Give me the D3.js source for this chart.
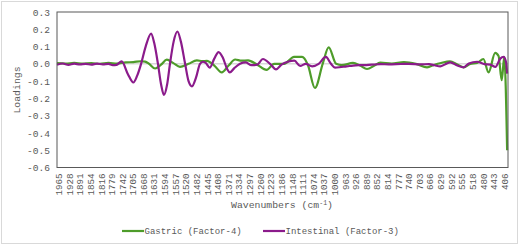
<!DOCTYPE html>
<html>
<head>
<meta charset="utf-8">
<script src="https://cdn.jsdelivr.net/npm/d3@7"></script>
<style>
  body { margin: 0; background: #fff; }
  text { font-family: "Liberation Mono", "DejaVu Sans Mono", monospace; fill: #595959; }
</style>
</head>
<body>
<svg id="chart" width="520" height="246"></svg>
<script>
// wavenumber tick labels (cm-1)
const xLabels = [1965, 1928, 1891, 1854, 1816, 1779, 1742, 1705, 1668, 1631, 1594, 1557, 1520,
  1482, 1445, 1408, 1371, 1334, 1297, 1260, 1223, 1186, 1148, 1111, 1074, 1037, 1000, 963,
  926, 889, 852, 814, 777, 740, 703, 666, 629, 592, 555, 518, 480, 443, 406];
const yTicks = [-0.6, -0.5, -0.4, -0.3, -0.2, -0.1, 0.0, 0.1, 0.2, 0.3];

// Gastric (Factor-4) loadings
const gastricWn = [1970, 1940, 1910, 1880, 1850, 1820, 1790, 1760, 1730, 1703, 1676, 1662, 1648,
  1627, 1606, 1586, 1563, 1540, 1510, 1481, 1462, 1446, 1420, 1394, 1370, 1347, 1325, 1302,
  1270, 1237, 1211, 1176, 1141, 1113, 1093, 1068, 1041, 1020, 994, 974, 935, 910, 886, 860,
  840, 800, 757, 715, 676, 650, 627, 596, 570, 548, 525, 501, 479, 461, 438, 426, 415, 406, 396];
const gastricVal = [0.004, 0.002, 0.005, 0.001, 0.004, 0.0, 0.005, 0.002, 0.008, 0.01, 0.015, 0.013, 0.0,
  -0.027, -0.005, 0.024, 0.004, -0.018, 0.0, 0.02, 0.016, 0.017, -0.01, -0.05, -0.01, 0.025, 0.018, 0.02,
  -0.005, -0.035, 0.0, 0.0, 0.04, 0.04, -0.005, -0.14, 0.0, 0.095, 0.0, -0.008, 0.005, -0.01, -0.03, -0.01,
  0.007, 0.002, 0.01, 0.0, -0.02, -0.005, 0.005, 0.014, -0.004, -0.02, 0.0, 0.005, 0.028, -0.05, 0.063, 0.045, -0.095, 0.04, -0.5];

// Intestinal (Factor-3) loadings
const intestinalWn = [1970, 1950, 1930, 1910, 1890, 1870, 1850, 1830, 1810, 1790, 1775, 1762, 1744,
  1722, 1703, 1690, 1676, 1660, 1641, 1630, 1617, 1606, 1596, 1585, 1575, 1562, 1549, 1537, 1522,
  1510, 1498, 1484, 1470, 1460, 1450, 1436, 1420, 1405, 1390, 1375, 1366, 1350, 1330, 1310, 1290,
  1270, 1250, 1225, 1204, 1185, 1163, 1140, 1120, 1100, 1078, 1055, 1030, 1012, 998, 975, 957,
  935, 915, 896, 870, 838, 810, 768, 740, 700, 669, 650, 630, 612, 595, 570, 548, 530, 501, 475,
  455, 437, 420, 408, 400, 396];
const intestinalVal = [-0.005, 0.002, -0.006, 0.001, -0.004, 0.0, -0.005, 0.001, -0.003, 0.0, -0.008, -0.006, 0.014,
  -0.06, -0.108, -0.07, 0.0, 0.1, 0.175, 0.12, 0.0, -0.12, -0.18, -0.12, 0.0, 0.13, 0.187, 0.13, 0.0,
  -0.1, -0.13, -0.08, 0.0, 0.012, 0.005, -0.022, 0.03, 0.068, 0.035, -0.03, -0.05, -0.025, 0.0, 0.008, -0.008,
  -0.005, 0.028, 0.0, -0.032, -0.005, 0.012, 0.018, -0.012, 0.0, -0.015, 0.0, 0.04, 0.0, -0.022, -0.018, -0.015,
  -0.01, -0.008, -0.008, -0.005, -0.002, -0.003, -0.001, 0.0, -0.003, -0.002, -0.008, -0.015, -0.002, 0.008, -0.01,
  -0.02, 0.002, 0.012, -0.002, -0.005, -0.018, 0.03, 0.04, 0.01, -0.057];

const green = '#4e9c2a';
const purple = '#8b1b8b';

const svg = d3.select('#chart');
const plot = { left: 57, right: 508, top: 12, bottom: 167.5 };

const x = d3.scaleLinear().domain([1970, 393]).range([plot.left, plot.right]);
const y = d3.scaleLinear().domain([-0.6, 0.3]).range([plot.bottom, plot.top]);
const fmt = d3.formatLocale({ decimal: '.', thousands: ',', grouping: [3], currency: ['', ''], minus: '-' }).format('.1f');

// chart frame
svg.append('rect')
  .attr('x', 1.5).attr('y', 1.5).attr('width', 516).attr('height', 242)
  .attr('fill', '#fff').attr('stroke', '#d9d9d9').attr('stroke-width', 1);

// zero line
svg.append('line')
  .attr('x1', plot.left).attr('x2', plot.right)
  .attr('y1', y(0)).attr('y2', y(0))
  .attr('stroke', '#d9d9d9').attr('stroke-width', 1.5);

// y axis
const yAxis = svg.append('g')
  .attr('transform', `translate(${plot.left},0)`)
  .call(d3.axisLeft(y).tickValues(yTicks).tickFormat(fmt).tickSize(0).tickPadding(7));
yAxis.select('.domain').remove();
yAxis.selectAll('text').attr('font-size', 9.6).attr('font-family', null);

// x axis
const xAxis = svg.append('g')
  .attr('transform', `translate(0,${plot.bottom})`)
  .call(d3.axisBottom(x).tickValues(xLabels).tickFormat(d3.format('d')).tickSize(0));
xAxis.select('.domain').remove();
xAxis.selectAll('text')
  .attr('font-size', 9.2).attr('font-family', null)
  .attr('transform', 'rotate(-90)')
  .attr('x', -6).attr('y', 0).attr('dy', '0.33em')
  .attr('text-anchor', 'end');

// series
function series(wn, val) {
  return wn.map((w, i) => ({ w, v: val[i] }));
}
const line = d3.line()
  .x(d => x(d.w))
  .y(d => y(d.v))
  .curve(d3.curveMonotoneX);

svg.append('path')
  .datum(series(gastricWn, gastricVal))
  .attr('d', line)
  .attr('fill', 'none').attr('stroke', green).attr('stroke-width', 2.2);

svg.append('path')
  .datum(series(intestinalWn, intestinalVal))
  .attr('d', line)
  .attr('fill', 'none').attr('stroke', purple).attr('stroke-width', 2.2);

// plot border
svg.append('rect')
  .attr('x', plot.left).attr('y', plot.top)
  .attr('width', plot.right - plot.left).attr('height', plot.bottom - plot.top)
  .attr('fill', 'none').attr('stroke', '#595959').attr('stroke-width', 1);

// axis titles
svg.append('text')
  .attr('transform', 'translate(20,90) rotate(-90)')
  .attr('text-anchor', 'middle').attr('font-size', 9.8)
  .text('Loadings');

const xt = svg.append('text')
  .attr('x', 282).attr('y', 208)
  .attr('text-anchor', 'middle').attr('font-size', 9.8);
xt.append('tspan').text('Wavenumbers (cm');
xt.append('tspan').attr('font-size', 6.5).attr('dy', -3.5).text('-1');
xt.append('tspan').attr('dy', 3.5).text(')');

// legend
const legendItems = [
  { name: 'Gastric (Factor-4)', color: green, x: 122 },
  { name: 'Intestinal (Factor-3)', color: purple, x: 263 },
];
const lg = svg.append('g').selectAll('g')
  .data(legendItems)
  .join('g')
  .attr('transform', d => `translate(${d.x},231)`);
lg.append('line')
  .attr('x1', 0).attr('x2', 22)
  .attr('stroke', d => d.color).attr('stroke-width', 2.2);
lg.append('text')
  .attr('x', 22.5).attr('dy', '0.35em')
  .attr('font-size', 9)
  .text(d => d.name);
</script>
</body>
</html>
